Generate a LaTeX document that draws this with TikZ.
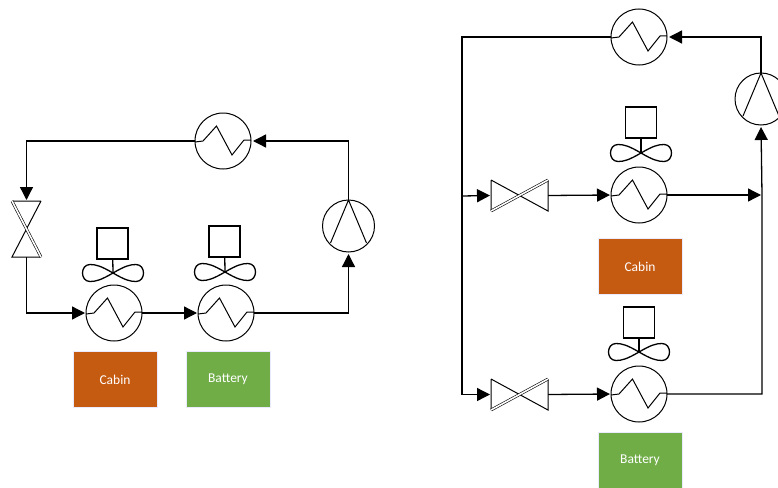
\documentclass[tikz,border=0pt]{standalone}
\usepackage{fontspec}
\setmainfont{Carlito}
\usetikzlibrary{arrows.meta,positioning}
\tikzset{
  hxc/.style={draw, circle, inner sep=0pt, outer sep=0pt, minimum size=56pt, line width=1pt},
  comp/.style={draw, circle, inner sep=0pt, outer sep=0pt, minimum size=52pt, line width=1pt},
  vlvh/.style={inner sep=0pt, outer sep=0pt, minimum width=57pt, minimum height=31pt},
  vlvv/.style={inner sep=0pt, outer sep=0pt, minimum width=29pt, minimum height=56pt},
  motor/.style={draw, inner sep=0pt, outer sep=0pt, minimum size=31pt, line width=1.5pt},
  load/.style={inner sep=0pt, minimum width=84pt, minimum height=56pt, text=white, font=\fontsize{13.5}{16}\selectfont,
               draw=blue!8, line width=1pt},
  arr/.style={-{Triangle[length=13pt,width=13pt]}, line width=1.3pt, shorten >=1pt},
  line/.style={line width=1.3pt},
  thinl/.style={line width=1pt}
}
% heat exchanger: circle plus zigzag
\newcommand{\hxnode}[2]{
  \node[hxc] (#1) at (#2) {};
  \draw[thinl, shift={(#2)}] (-28,1) -- (-20,0) -- (-6.5,-15) -- (9,14) -- (21,-1) -- (28,-1);
}
% compressor: circle plus two strokes from the top
\newcommand{\compnode}[2]{
  \node[comp] (#1) at (#2) {};
  \draw[thinl] (#1.north) -- ++(-18,43) (#1.north) -- ++(18,43);
}
% fan under its motor box
\newcommand{\fannode}[3]{
  \node[motor] (#1) at (#2) {};
  \coordinate (#1fan) at (#3);
  \draw[line] (#1) -- (#1fan);
  \draw[line, shift={(#3)}] (0,0) .. controls (12,-7) and (17,-8.5) .. (23,-8.5) .. controls (33,-8.5) and (33,8.5) .. (23,8.5)
    .. controls (17,8.5) and (12,7) .. (0,0) .. controls (-12,-7) and (-17,-8.5) .. (-23,-8.5)
    .. controls (-33,-8.5) and (-33,8.5) .. (-23,8.5) .. controls (-17,8.5) and (-12,7) .. (0,0);
}
\newcommand{\vlvhnode}[2]{
  \node[vlvh] (#1) at (#2) {};
  \draw[thinl, line join=miter] (#1.north west) -- (#1.south east) -- (#1.north east) (#1.north west) -- (#1.south west);
  \draw[line width=0.6pt, double, double distance=1.6pt] (#1.south west) -- (#1.north east);
}
\newcommand{\vlvvnode}[2]{
  \node[vlvv] (#1) at (#2) {};
  \draw[thinl, line join=miter] (#1.north east) -- (#1.south west) -- (#1.south east) (#1.north west) -- (#1.north east);
  \draw[line width=0.6pt, double, double distance=1.6pt] (#1.north west) -- (#1.south east);
}
\begin{document}
\begin{tikzpicture}[x=1pt, y=-1pt]
\useasboundingbox (0,0) rectangle (778,487);

% series circuit
\hxnode{cond1}{223,141}
\vlvvnode{valve1}{26.5,229}
\hxnode{cab1}{114,313}
\hxnode{bat1}{226,313}
\compnode{comp1}{348.5,226}
\fannode{fan1}{112.5,243.5}{113,273}
\fannode{fan2}{224.5,241.5}{225,272}
\node[load, fill=orange!75!black, fill={rgb,255:red,197;green,90;blue,17}] (cabin1) at (115,379.5) {Cabin};
\node[load, fill={rgb,255:red,112;green,173;blue,71}] (battery1) at (228,379.5) {Battery};

\draw[arr] (cond1.west) -| (valve1.north);
\draw[arr] (valve1.south) |- (cab1.west);
\draw[arr] (cab1.east) -- (bat1.west);
\draw[arr, shorten >=2pt] (bat1.east) -| (comp1.south);
\draw[arr, shorten >=2pt] (comp1.north) |- (cond1.east);

% parallel circuit
\hxnode{cond2}{639,37}
\compnode{comp2}{761,99}
\vlvhnode{valve2}{519.5,195.5}
\vlvhnode{valve3}{519.5,394.5}
\hxnode{cab2}{639,195}
\hxnode{bat2}{639,394}
\fannode{fan3}{641,122.5}{641,153}
\fannode{fan4}{639,322.5}{639,352}
\node[load, fill={rgb,255:red,197;green,90;blue,17}] (cabin2) at (640,266.5) {Cabin};
\node[load, fill={rgb,255:red,112;green,173;blue,71}] (battery2) at (640,460) {Battery};

\coordinate (jtop) at (462,196);
\coordinate (jbot) at (462,394.5);
\coordinate (jright) at (762,195);

\draw[arr, shorten >=2pt] (comp2.north) |- (cond2.east);
\draw[arr] (cond2.west) -| (jbot) -- (valve3.west);
\draw[arr] (jtop) -- (valve2.west);
\draw[arr] (valve2.east) -- (cab2.west);
\draw[arr] (valve3.east) -- (bat2.west);
\draw[arr] (cab2.east) -- (jright);
\draw[arr, shorten >=2pt] (bat2.east) -| (jright) -- (comp2.south);
\end{tikzpicture}
\end{document}
